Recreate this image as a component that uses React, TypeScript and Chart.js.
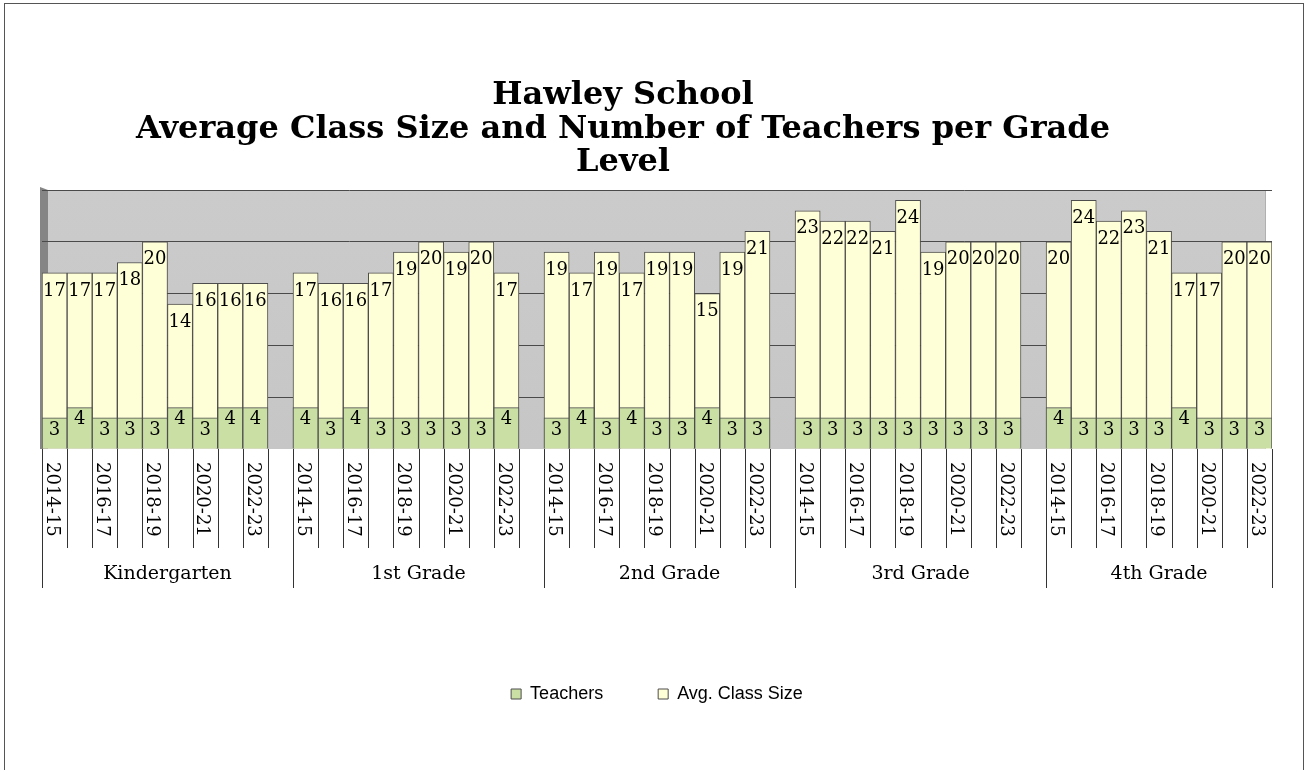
import React, { useEffect, useRef } from 'react';
import { Chart, registerables } from 'chart.js';

Chart.register(...registerables);

const titleLines = ['Hawley School', 'Average Class Size and Number of Teachers per Grade', 'Level'];
const grades = ['Kindergarten', '1st Grade', '2nd Grade', '3rd Grade', '4th Grade'];
const years = ['2014-15', '2015-16', '2016-17', '2017-18', '2018-19', '2019-20', '2020-21', '2021-22', '2022-23'];

const teachersK = [3, 4, 3, 3, 3, 4, 3, 4, 4];
const teachers1 = [4, 3, 4, 3, 3, 3, 3, 3, 4];
const teachers2 = [3, 4, 3, 4, 3, 3, 4, 3, 3];
const teachers3 = [3, 3, 3, 3, 3, 3, 3, 3, 3];
const teachers4 = [4, 3, 3, 3, 3, 4, 3, 3, 3];

const classK = [17, 17, 17, 18, 20, 14, 16, 16, 16];
const class1 = [17, 16, 16, 17, 19, 20, 19, 20, 17];
const class2 = [19, 17, 19, 17, 19, 19, 15, 19, 21];
const class3 = [23, 22, 22, 21, 24, 19, 20, 20, 20];
const class4 = [20, 24, 22, 23, 21, 17, 17, 20, 20];

const teachersByGrade = [teachersK, teachers1, teachers2, teachers3, teachers4];
const classByGrade = [classK, class1, class2, class3, class4];

// Build flat category list with a blank separator slot between grades
const labels: string[] = [];
const groupIndex: number[] = [];
const teachersData: (number | null)[] = [];
const classData: (number | null)[] = [];
grades.forEach((g, gi) => {
  years.forEach((y, yi) => {
    labels.push(y);
    groupIndex.push(gi);
    teachersData.push(teachersByGrade[gi][yi]);
    classData.push(classByGrade[gi][yi]);
  });
  if (gi < grades.length - 1) {
    labels.push('');
    groupIndex.push(gi);
    teachersData.push(null);
    classData.push(null);
  }
});

const SERIF = '"DejaVu Serif", Georgia, serif';

const backgroundPlugin = {
  id: 'bgWall',
  beforeDraw(chart: any) {
    const { ctx, chartArea: ca, width, height } = chart;
    ctx.save();
    ctx.fillStyle = '#ffffff';
    ctx.fillRect(0, 0, width, height);
    // outer border
    ctx.strokeStyle = '#555555';
    ctx.lineWidth = 1;
    ctx.strokeRect(4.5, 3.5, 1299, 800);
    // back wall
    const grad = ctx.createLinearGradient(0, ca.top, 0, ca.bottom);
    grad.addColorStop(0, '#cbcbcb');
    grad.addColorStop(1, '#c6c6c6');
    ctx.fillStyle = grad;
    ctx.fillRect(ca.left + 6, ca.top, ca.right - ca.left - 12, ca.bottom - ca.top);
    // left side wall
    ctx.fillStyle = '#858585';
    ctx.beginPath();
    ctx.moveTo(ca.left - 2, ca.top - 3);
    ctx.lineTo(ca.left + 6, ca.top);
    ctx.lineTo(ca.left + 6, ca.bottom);
    ctx.lineTo(ca.left - 2, ca.bottom);
    ctx.closePath();
    ctx.fill();
    // right edge of back wall
    ctx.strokeStyle = '#b0b0b0';
    ctx.beginPath();
    ctx.moveTo(ca.right - 6.5, ca.top);
    ctx.lineTo(ca.right - 6.5, ca.bottom);
    ctx.stroke();
    ctx.restore();
  },
};

const labelPlugin = {
  id: 'barLabels',
  afterDatasetsDraw(chart: any) {
    const { ctx } = chart;
    ctx.save();
    ctx.fillStyle = '#000';
    ctx.textAlign = 'center';
    ctx.textBaseline = 'middle';
    ctx.font = `18px ${SERIF}`;
    chart.data.datasets.forEach((ds: any, di: number) => {
      const meta = chart.getDatasetMeta(di);
      meta.data.forEach((bar: any, i: number) => {
        const v = ds.data[i];
        if (v === null || v === undefined) return;
        const off = di === 0 ? 12 : 18;
        ctx.fillText(String(v), bar.x, bar.y + off);
      });
    });
    ctx.restore();
  },
};

const axisPlugin = {
  id: 'multiAxis',
  afterDraw(chart: any) {
    const { ctx, chartArea: ca } = chart;
    const xs = chart.scales.x;
    const n = chart.data.labels.length;
    const w = (xs.right - xs.left) / n;
    const bottom = ca.bottom;
    ctx.save();
    // tick separators
    ctx.strokeStyle = '#333';
    ctx.lineWidth = 1;
    for (let i = 0; i <= n; i++) {
      const x = Math.round(xs.getPixelForValue(Math.min(i, n - 1)) + (i === n ? w / 2 : -w / 2)) + 0.5;
      const isGroupEdge = i === 0 || i === n || groupIndex[i] !== groupIndex[i - 1];
      ctx.beginPath();
      ctx.moveTo(x, bottom);
      ctx.lineTo(x, bottom + (isGroupEdge ? 139 : 99));
      ctx.stroke();
    }
    // year labels, rotated
    ctx.fillStyle = '#000';
    ctx.font = `18px ${SERIF}`;
    ctx.textAlign = 'left';
    ctx.textBaseline = 'middle';
    let posInGroup = 0;
    for (let i = 0; i < n; i++) {
      if (i > 0 && groupIndex[i] !== groupIndex[i - 1]) posInGroup = 0;
      const lab = chart.data.labels[i];
      if (lab && posInGroup % 2 === 0) {
        const x = xs.getPixelForValue(i) - 3;
        ctx.save();
        ctx.translate(x, bottom + 13);
        ctx.rotate(Math.PI / 2);
        ctx.fillText(lab, 0, 0);
        ctx.restore();
      }
      posInGroup++;
    }
    // group labels
    ctx.textAlign = 'center';
    ctx.font = `19px ${SERIF}`;
    grades.forEach((g, gi) => {
      const idx = groupIndex.map((v, i) => (v === gi ? i : -1)).filter((v) => v >= 0);
      const x0 = xs.getPixelForValue(idx[0]) - w / 2;
      const x1 = xs.getPixelForValue(idx[idx.length - 1]) + w / 2;
      ctx.fillText(g, (x0 + x1) / 2, bottom + 125);
    });
    // title
    ctx.font = `bold 32px ${SERIF}`;
    const ys = [96, 130, 163];
    titleLines.forEach((t, i) => ctx.fillText(t, 623, ys[i]));
    ctx.restore();
  },
};

export default function App() {
  const ref = useRef<HTMLCanvasElement>(null);
  useEffect(() => {
    document.body.style.margin = '0';
    const chart = new Chart(ref.current as HTMLCanvasElement, {
      type: 'bar',
      data: {
        labels,
        datasets: [
          {
            label: 'Teachers',
            data: teachersData,
            backgroundColor: '#cadfa4',
            borderColor: '#4d4d4d',
            borderWidth: 1,
            grouped: false,
            barPercentage: 1,
            categoryPercentage: 1,
          },
          {
            label: 'Avg. Class Size',
            data: classData,
            backgroundColor: '#ffffd7',
            borderColor: '#4d4d4d',
            borderWidth: 1,
            grouped: false,
            barPercentage: 1,
            categoryPercentage: 1,
          },
        ],
      } as any,
      options: {
        responsive: false,
        animation: false,
        devicePixelRatio: 1,
        layout: { padding: { left: 42, right: 35, top: 190, bottom: 57 } },
        plugins: {
          title: { display: false },
          tooltip: { enabled: false },
          legend: {
            position: 'bottom',
            labels: {
              boxWidth: 10,
              boxHeight: 10,
              padding: 55,
              color: '#000',
              font: { family: '"Liberation Sans", Arial, sans-serif', size: 18 },
            },
          },
        },
        scales: {
          x: {
            type: 'category',
            ticks: { display: false },
            grid: { display: false },
            border: { display: false },
            afterFit: (s: any) => {
              s.height = 181;
            },
          },
          y: {
            min: 0,
            max: 25,
            ticks: { display: false, stepSize: 5 },
            grid: {
              drawTicks: false,
              color: (c: any) => (c.tick && c.tick.value === 0 ? 'rgba(0,0,0,0)' : '#4a4a4a'),
              lineWidth: 1,
            },
            border: { display: false },
            afterFit: (s: any) => {
              s.width = 0;
            },
          },
        },
      } as any,
      plugins: [backgroundPlugin, labelPlugin, axisPlugin],
    });
    return () => chart.destroy();
  }, []);
  return <canvas ref={ref} width={1307} height={770} style={{ display: 'block', width: 1307, height: 770 }} />;
}
